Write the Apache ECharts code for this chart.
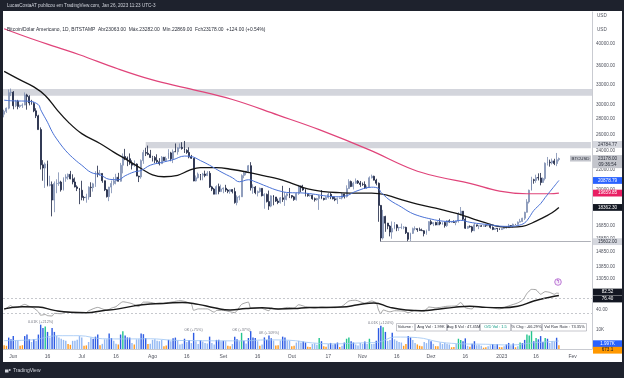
<!DOCTYPE html>
<html><head><meta charset="utf-8">
<script src="https://cdn.jsdelivr.net/npm/echarts@6/dist/echarts.min.js"></script>
<style>html,body{margin:0;padding:0;background:#fff;}#c{width:624px;height:378px;}</style>
</head><body><div id="c"></div>
<script>
// ---------- DATA ----------
const firstDay = '2022-05-28', lastDay = '2023-02-09';
// daily OHLC [open, high, low, close] from 2022-05-28 to 2023-01-26
const ohlc = [
[28620,29250,28200,29020],[29020,29550,28800,29450],[29450,32200,29300,31720],[31720,32350,31200,31790],
[31790,31950,29300,29800],[29800,30650,29600,30450],[30450,30650,29300,29700],[29700,29950,29480,29860],[29860,30150,29500,29900],[29900,31750,29880,31370],[31370,31550,29250,31130],[31130,31330,29850,30200],[30200,30650,29950,30110],[30110,30350,28900,29090],[29090,29450,28100,28400],[28400,28550,26600,26600],
[26600,26880,22000,22490],[22490,23000,20850,22150],[22150,22750,20150,22580],[22580,22950,20300,20400],[20400,21350,20300,20470],[20470,20780,17600,19020],[19020,20780,17950,20570],[20570,21000,19650,20580],[20580,21700,20350,20720],[20720,20850,19800,19970],[19970,21200,19900,21100],[21100,21500,20750,21230],[21230,21580,20950,21500],[21500,21850,21000,21040],[21040,21500,20500,20730],[20730,21180,20200,20250],[20250,20400,19850,20100],[20100,20150,18650,19930],
[19930,20850,19000,19260],[19260,19400,18970,19240],[19240,19600,18780,19300],[19300,20300,19050,20220],[20220,20700,19300,20180],[20180,20650,19800,20550],[20550,21820,20250,21620],[21620,22400,21200,21590],[21590,21950,21350,21590],[21590,21600,20650,20850],[20850,20870,19850,19970],[19970,20050,19250,19330],[19330,20250,18920,20230],[20230,20870,19650,20580],[20580,21200,20400,20830],[20830,21550,20500,21200],[21200,21650,20780,20800],[20800,22700,20760,22450],[22450,23750,21600,23400],[23400,24270,23000,23230],[23230,23400,22350,23160],[23160,23750,22500,22680],[22680,22980,22000,22460],[22460,22980,22280,22580],[22580,22650,21300,21320],[21320,21350,20720,21240],[21240,23080,21050,22950],[22950,24150,22600,23850],[23850,24400,23450,23770],[23770,24650,23550,23640],[23640,24150,23250,23300],
[23300,23480,22850,23280],[23280,23450,22680,22990],[22990,23650,22700,22820],[22820,23220,22430,22620],[22620,23450,22600,23320],[23320,23360,22930,22960],[22960,23400,22850,23180],[23180,24230,23160,23810],[23810,23930,22880,23150],[23150,24200,22680,23950],[23950,24900,23900,23940],[23940,24450,23610,24400],[24400,24900,24300,24440],[24440,25050,24180,24310],[24310,25200,23800,24100],[24100,24230,23700,23860],[23860,24450,23200,23340],[23340,23580,23130,23200],[23200,23200,20800,20830],[20830,21380,20780,21150],[21150,21680,21080,21520],[21520,21520,20900,21400],[21400,21650,20900,21530],[21530,21880,21200,21370],[21370,21820,21320,21600],[21600,21830,20150,20250],[20250,20350,19850,20040],[20040,20150,19550,19560],[19560,20400,19550,20280],[20280,20570,19550,19800],[19800,20470,19800,20050],
[20050,20200,19650,20130],[20130,20450,19770,19950],[19950,20050,19650,19830],[19830,20000,19600,19990],[19990,20030,19630,19800],[19800,20170,18700,18790],[18790,19450,18550,19290],[19290,19450,19000,19320],[19320,21500,19300,21370],[21370,21800,21100,21650],[21650,21850,21400,21830],[21830,22480,21600,22400],[22400,22780,19900,20170],[20170,20500,19600,20230],[20230,20330,19550,19700],[19700,19900,19350,19800],[19800,20180,19700,20110],[20110,20110,19350,19420],[19420,19650,18250,19540],[19540,19620,18800,18880],[18880,19900,18150,18480],[18480,19450,18380,19400],[19400,19480,18550,19300],[19300,19300,18850,18930],[18930,19150,18650,18800],[18800,19300,18700,19220],[19220,20350,18850,19080],[19080,19750,18500,19410],[19410,19650,19000,19590],[19590,20150,19200,19430],
[19430,19470,19170,19310],[19310,19400,18950,19060],[19060,19700,18970,19630],[19630,20450,19500,20340],[20340,20370,19750,20160],[20160,20450,19880,19960],[19960,20050,19350,19530],[19530,19600,19320,19420],[19420,19550,19330,19450],[19450,19520,19050,19140],[19140,19250,18880,19050],[19050,19220,18970,19160],[19160,19500,18150,19380],[19380,19950,19100,19180],[19180,19220,18980,19070],[19070,19360,19070,19260],[19260,19680,19150,19550],[19550,19700,19100,19330],[19330,19350,19080,19130],[19130,19350,18920,19040],[19040,19250,18670,19170],[19170,19250,19130,19200],[19200,19690,19080,19570],[19570,19600,19160,19330],[19330,20400,19250,20090],[20090,21000,20060,20770],[20770,20870,20230,20290],[20290,20750,20000,20600],[20600,21080,20560,20820],[20820,20920,20530,20630],[20630,20830,20250,20490],
[20490,20680,20350,20480],[20480,20790,20050,20150],[20150,20380,20050,20210],[20210,21290,20180,21150],[21150,21470,21080,21300],[21300,21360,20880,20910],[20910,21050,20400,20600],[20600,20680,17150,18540],[18540,18580,15602,15880],[15880,18150,15760,17590],[17590,17650,16350,17040],[17040,17060,16550,16800],[16800,16880,16000,16330],[16330,17180,15820,16620],[16620,17130,16550,16900],[16900,16950,16400,16660],[16660,16750,16420,16690],[16690,17000,16560,16700],[16700,16800,16550,16700],[16700,16750,16180,16280],[16280,16300,15620,15780],[15780,16280,15650,16230],[16230,16680,16180,16600],[16600,16780,16460,16600],[16600,16610,16350,16520],[16520,16680,16440,16460],[16460,16600,16420,16430],[16430,16480,16000,16210],[16210,16520,16120,16440],[16440,17200,16430,17160],
[17160,17320,16880,16980],[16980,17100,16800,17090],[17090,17150,16870,16890],[16890,17200,16880,17110],[17110,17430,16870,16970],[16970,17110,16910,17090],[17090,17140,16680,16840],[16840,17290,16740,17230],[17230,17350,17080,17130],[17130,17220,17090,17130],[17130,17270,17080,17090],[17090,17240,16870,17210],[17210,17950,17080,17780],[17780,18400,17660,18040],[18040,18050,17280,17360],[17360,17530,16580,16630],[16630,16800,16580,16780],[16780,16860,16680,16740],[16740,16820,16300,16440],[16440,17060,16400,16900],[16900,16910,16750,16820],[16820,16860,16560,16820],[16820,16880,16760,16780],[16780,16860,16770,16840],[16840,16860,16730,16830],[16830,16950,16790,16910],[16910,16960,16600,16700],[16700,16780,16480,16540],[16540,16650,16490,16630],[16630,16640,16340,16600],[16600,16630,16490,16530],
[16530,16620,16490,16610],[16610,16780,16550,16670],[16670,16760,16600,16670],[16670,16980,16660,16850],[16850,16880,16750,16830],[16830,17000,16680,16950],[16950,16980,16900,16940],[16940,17170,16910,17120],[17120,17390,17100,17180],[17180,17480,17150,17440],[17440,17990,17300,17940],[17940,19100,17920,18850],[18850,19990,18710,19930],[19930,21250,19900,20950],[20950,21050,20560,20880],[20880,21460,20650,21170],[21170,21600,20880,21130],[21130,21640,20400,20680],[20680,21180,20660,21070],[21070,22750,20880,22670],[22670,23350,22420,22780],[22780,23060,22300,22710],[22710,23170,22530,22920],[22920,23150,22460,22630],[22630,23800,22350,23054],[23063,23282,22869,23178]
];
// daily volume (thousand BTC), same days
const vol = [
2.0,1.7,6.0,5.1,
6.8,4.3,4.3,1.7,2.0,6.8,7.6,5.1,3.7,5.1,4.3,7.6,
12.8,11.0,11.8,9.0,6.0,11.0,9.0,6.8,6.0,5.4,4.8,4.3,2.6,2.2,4.3,4.4,4.9,6.8,
6.0,1.7,1.9,3.7,6.0,5.4,6.5,7.6,2.0,2.7,5.1,5.1,8.2,5.8,4.4,2.7,2.4,7.6,9.4,7.1,6.1,6.0,3.1,2.4,5.1,5.1,8.2,7.8,5.8,2.6,2.7,
4.8,5.1,4.4,4.1,4.8,1.5,1.9,4.8,4.1,5.6,6.0,4.3,2.4,2.7,5.4,3.7,4.8,3.1,8.5,4.1,2.6,4.6,3.9,3.2,2.9,6.5,3.1,2.4,4.8,4.9,4.1,
4.3,4.1,1.7,1.5,2.6,6.5,5.1,4.1,8.5,4.3,2.9,5.8,9.4,6.1,5.8,4.1,1.7,2.4,6.1,4.8,7.1,5.6,4.4,1.9,2.0,4.4,6.5,6.1,4.3,4.4,
1.4,1.7,3.4,4.3,3.4,3.9,3.4,1.2,1.0,2.6,2.9,2.2,5.8,4.1,1.4,1.2,2.6,3.2,2.4,2.7,3.4,1.0,1.7,3.4,5.4,6.0,4.1,3.4,2.4,1.9,3.1,
2.7,3.9,2.6,5.4,2.6,2.7,4.4,11.0,12.3,11.5,9.0,4.3,4.8,8.5,5.1,4.4,3.7,3.4,1.7,2.6,6.8,6.1,4.8,3.1,2.4,1.7,1.5,3.7,3.1,4.9,
4.1,2.7,1.5,1.5,3.4,2.6,3.2,2.7,2.4,0.9,1.0,2.6,5.4,4.8,4.1,5.6,1.7,1.2,2.7,4.1,2.0,2.2,1.7,0.7,0.9,1.4,2.0,2.6,2.0,2.6,1.0,
0.9,1.5,2.4,3.2,1.9,2.9,0.9,1.5,3.4,3.1,4.8,7.6,7.1,9.4,4.1,5.8,5.1,6.8,3.7,5.8,5.4,3.2,4.1,3.9,5.92,1.997
];
// moving averages [date, value]
const ma200 = [['2022-05-28',43000],['2022-06-09',41000],['2022-06-20',39400],['2022-06-30',38000],['2022-07-17',35500],['2022-08-01',33700],['2022-08-16',32400],['2022-09-05',30700],['2022-09-25',28500],['2022-10-13',26600],['2022-11-04',24150],['2022-11-23',22000],['2022-12-05',21200],['2022-12-18',20600],['2022-12-31',19850],['2023-01-12',19600],['2023-01-22',19600],['2023-01-26',19659.85]];
const ma50 = [['2022-05-28',35100],['2022-06-04',33700],['2022-06-10',32600],['2022-06-15',31300],['2022-06-20',29300],['2022-06-25',27600],['2022-07-01',26100],['2022-07-09',24900],['2022-07-15',23900],['2022-07-21',23000],['2022-07-27',22100],['2022-08-01',21450],['2022-08-06',21250],['2022-08-12',21400],['2022-08-17',21900],['2022-08-22',22200],['2022-08-29',22200],['2022-09-05',22000],['2022-09-12',21700],['2022-09-19',21350],['2022-09-25',21050],['2022-10-01',20600],['2022-10-08',20050],['2022-10-15',19800],['2022-10-22',19700],['2022-10-29',19650],['2022-11-05',19650],['2022-11-12',19450],['2022-11-18',19050],['2022-11-25',18650],['2022-12-03',18300],['2022-12-09',18000],['2022-12-14',17750],['2022-12-20',17350],['2022-12-25',17060],['2022-12-31',16760],['2023-01-05',16720],['2023-01-10',16780],['2023-01-16',17200],['2023-01-20',17580],['2023-01-23',17900],['2023-01-26',18362.30]];
const ema20 = [['2022-05-28',30600],['2022-06-01',30500],['2022-06-08',30450],['2022-06-12',29950],['2022-06-13',29250],['2022-06-14',28650],['2022-06-16',27550],['2022-06-18',26350],['2022-06-20',25450],['2022-06-24',24050],['2022-06-28',23050],['2022-07-01',22450],['2022-07-05',21700],['2022-07-09',21450],['2022-07-13',21000],['2022-07-17',20950],['2022-07-20',21350],['2022-07-24',21750],['2022-07-27',21900],['2022-07-31',22450],['2022-08-05',22750],['2022-08-10',23050],['2022-08-15',23450],['2022-08-18',23400],['2022-08-22',22950],['2022-08-26',22450],['2022-08-31',21750],['2022-09-05',21150],['2022-09-08',20750],['2022-09-12',20950],['2022-09-15',20750],['2022-09-20',20300],['2022-09-25',19900],['2022-09-30',19700],['2022-10-05',19680],['2022-10-10',19580],['2022-10-15',19420],['2022-10-20',19320],['2022-10-25',19420],['2022-10-29',19820],['2022-11-05',20220],['2022-11-08',20100],['2022-11-09',19740],['2022-11-10',19540],['2022-11-13',19000],['2022-11-18',18400],['2022-11-22',17920],['2022-11-26',17620],['2022-11-30',17420],['2022-12-05',17230],['2022-12-10',17160],['2022-12-14',17270],['2022-12-18',17110],['2022-12-22',17000],['2022-12-27',16900],['2022-12-31',16800],['2023-01-04',16780],['2023-01-08',16850],['2023-01-11',17060],['2023-01-13',17510],['2023-01-15',18100],['2023-01-18',18700],['2023-01-20',19250],['2023-01-23',20050],['2023-01-26',20878.79]];
// RSI (thin) and its average (thick)
const rsi = [['2022-05-28',38],['2022-05-31',50],['2022-06-01',44],['2022-06-03',45],['2022-06-06',53],['2022-06-08',48],['2022-06-10',43],['2022-06-12',33],['2022-06-13',24],['2022-06-15',26],['2022-06-16',23],['2022-06-18',22],['2022-06-19',29],['2022-06-22',28],['2022-06-24',33],['2022-06-26',32],['2022-06-28',30],['2022-06-30',30],['2022-07-03',31],['2022-07-04',36],['2022-07-08',45],['2022-07-10',41],['2022-07-12',37],['2022-07-14',43],['2022-07-16',47],['2022-07-19',60],['2022-07-21',58],['2022-07-23',55],['2022-07-26',47],['2022-07-28',59],['2022-07-30',59],['2022-08-04',54],['2022-08-08',58],['2022-08-10',60],['2022-08-13',63],['2022-08-15',61],['2022-08-18',54],['2022-08-19',37],['2022-08-21',41],['2022-08-25',41],['2022-08-28',32],['2022-08-29',37],['2022-09-01',37],['2022-09-06',31],['2022-09-09',53],['2022-09-12',59],['2022-09-13',43],['2022-09-17',44],['2022-09-21',36],['2022-09-22',43],['2022-09-25',40],['2022-09-29',45],['2022-10-02',43],['2022-10-04',52],['2022-10-07',47],['2022-10-11',43],['2022-10-14',46],['2022-10-20',44],['2022-10-23',48],['2022-10-26',62],['2022-10-29',64],['2022-11-02',56],['2022-11-05',62],['2022-11-07',57],['2022-11-08',38],['2022-11-09',28],['2022-11-10',38],['2022-11-13',33],['2022-11-15',36],['2022-11-19',35],['2022-11-21',31],['2022-11-24',37],['2022-11-28',35],['2022-11-30',46],['2022-12-03',44],['2022-12-05',45],['2022-12-08',48],['2022-12-12',49],['2022-12-14',58],['2022-12-16',44],['2022-12-19',41],['2022-12-20',47],['2022-12-27',44],['2022-12-31',41],['2023-01-04',49],['2023-01-08',57],['2023-01-10',64],['2023-01-11',72],['2023-01-12',82],['2023-01-14',93],['2023-01-16',92],['2023-01-18',80],['2023-01-20',87],['2023-01-22',85],['2023-01-24',80],['2023-01-25',83],['2023-01-26',82.52]];
const rsiMa = [['2022-05-28',41],['2022-06-05',47],['2022-06-12',46],['2022-06-19',37],['2022-06-26',32],['2022-07-03',31],['2022-07-10',36],['2022-07-17',41],['2022-07-24',49],['2022-07-31',54],['2022-08-07',56],['2022-08-14',58],['2022-08-21',53],['2022-08-28',44],['2022-09-04',38],['2022-09-11',42],['2022-09-18',44],['2022-09-25',41],['2022-10-02',42],['2022-10-09',45],['2022-10-16',45],['2022-10-23',46],['2022-10-30',52],['2022-11-06',57],['2022-11-13',45],['2022-11-20',38],['2022-11-27',36],['2022-12-04',40],['2022-12-11',45],['2022-12-18',48],['2022-12-25',45],['2023-01-01',44],['2023-01-08',48],['2023-01-15',62],['2023-01-22',72],['2023-01-26',76.40]];
// average volume line (thousand BTC)
const avgVol = [['2022-05-28',4.4],['2022-06-10',4.9],['2022-06-20',7.0],['2022-06-30',7.0],['2022-07-10',5.4],['2022-07-20',5.3],['2022-07-31',5.4],['2022-08-10',4.6],['2022-08-20',4.4],['2022-08-31',4.3],['2022-09-10',4.3],['2022-09-20',4.8],['2022-09-30',4.6],['2022-10-10',3.2],['2022-10-20',2.7],['2022-10-31',3.2],['2022-11-08',3.6],['2022-11-15',6.3],['2022-11-25',6.0],['2022-12-05',3.6],['2022-12-15',2.7],['2022-12-25',2.5],['2023-01-05',2.1],['2023-01-15',3.3],['2023-01-26',4.2]];
// horizontal zones / levels
const bandTop = [31260, 32270];
const bandMid = ['2022-07-29', 24350, 25070];
const supportLevel = ['2022-11-09', 15602];
// axis tick labels
const xTickDates = ['2022-06-01','2022-06-16','2022-07-01','2022-07-16','2022-08-01','2022-08-16','2022-09-01','2022-09-16','2022-10-01','2022-10-17','2022-11-01','2022-11-16','2022-12-01','2022-12-16','2023-01-01','2023-01-16','2023-02-01'];
const xTickText  = ['Jun','16','Jul','16','Ago','16','Set','16','Out','17','Nov','16','Dez','16','2023','16','Fev'];
const priceTicks = [40000,36000,33000,30000,28000,26000,24000,22000,20000,16850,15850,14850,13850,13050];
const volAnnot = [['2022-06-13',12.8,'0.01K (+212%)'],['2022-08-19',8.5,'0K (+75%)'],['2022-09-09',8.5,'0K (+37%)'],['2022-09-21',7.1,'0K (+109%)'],['2022-11-09',12.3,'0.01K (+124%)'],['2023-01-14',9.4,'0K (+148%)']];

// ---------- BUILD ----------
const dates = [];
for (let t = Date.parse(firstDay+'T00:00:00Z'); t <= Date.parse(lastDay+'T00:00:00Z'); t += 86400000) dates.push(new Date(t).toISOString().slice(0,10));
const xLab = {}; xTickDates.forEach((d,i)=>xLab[d]=xTickText[i]);
const candle = ohlc.map(r=>[r[0],r[3],r[2],r[1]]);
const avgIdx = avgVol.map(p=>dates.indexOf(p[0]));
function avgAt(i){let b=0,bd=1e9;avgIdx.forEach((ix,k)=>{const d=Math.abs(ix-i);if(d<bd){bd=d;b=k;}});return avgVol[b][1];}
const FONT = '"Liberation Sans", Arial, sans-serif';
const PMIN = 12572, PMAX = 46568;
const G = {left:3, width:589};
const hidX = i => ({type:'category', gridIndex:i, data:dates, boundaryGap:true, show:false});

const option = {
  animation:false, backgroundColor:'#ffffff',
  textStyle:{fontFamily:FONT},
  grid:[ {...G, top:12, height:275}, {...G, top:286.75, height:37.5}, {...G, top:311, height:38} ],
  xAxis:[ hidX(0), hidX(1), {type:'category', gridIndex:2, data:dates, boundaryGap:true,
      axisLine:{show:true, lineStyle:{color:'#c9cbd1', width:1}}, axisTick:{show:false},
      axisLabel:{interval:(i,v)=>xLab[v]!==undefined, formatter:v=>xLab[v]||'', fontSize:5, color:'#50535e', margin:5, fontFamily:FONT},
      splitLine:{show:false}} ],
  yAxis:[
    {type:'log', gridIndex:0, min:PMIN, max:PMAX, position:'right', axisLine:{show:true, lineStyle:{color:'#c9cbd1'}}, axisTick:{show:false}, axisLabel:{show:false}, splitLine:{show:false}},
    {type:'value', gridIndex:1, min:0, max:100, position:'right', axisLine:{show:true, lineStyle:{color:'#c9cbd1'}}, axisTick:{show:false}, axisLabel:{show:false}, splitLine:{show:false}},
    {type:'value', gridIndex:2, min:0, max:20, position:'right', axisLine:{show:true, lineStyle:{color:'#c9cbd1'}}, axisTick:{show:false}, axisLabel:{show:false}, splitLine:{show:false}}
  ],
  series:[
    {type:'candlestick', xAxisIndex:0, yAxisIndex:0, data:candle, barWidth:'62%',
      itemStyle:{color:'#c3cde2', color0:'#1c2542', borderColor:'#7b8bb0', borderColor0:'#1c2542', borderWidth:0.8},
      markArea:{silent:true, itemStyle:{color:'rgba(196,199,208,0.75)'}, data:[
        [{yAxis:bandTop[0]},{yAxis:bandTop[1]}],
        [{xAxis:bandMid[0], yAxis:bandMid[1]},{xAxis:lastDay, yAxis:bandMid[2]}] ]},
      markLine:{silent:true, symbol:'none', label:{show:false}, lineStyle:{color:'#9a9da6', width:0.8, type:'solid'},
        data:[[{coord:[supportLevel[0], supportLevel[1]]},{coord:[lastDay, supportLevel[1]]}]]}
    },
    {type:'line', xAxisIndex:0, yAxisIndex:0, data:ma200, smooth:0.4, symbol:'none', lineStyle:{color:'#e0447a', width:1.2}, z:3},
    {type:'line', xAxisIndex:0, yAxisIndex:0, data:ma50, smooth:0.4, symbol:'none', lineStyle:{color:'#151515', width:1.3}, z:3},
    {type:'line', xAxisIndex:0, yAxisIndex:0, data:ema20, smooth:0.4, symbol:'none', lineStyle:{color:'#4a72d6', width:1}, z:3},
    {type:'line', xAxisIndex:1, yAxisIndex:1, data:rsi, smooth:0.2, symbol:'none', lineStyle:{color:'#7e7e7e', width:0.7},
      markLine:{silent:true, symbol:'none', label:{show:false}, lineStyle:{color:'#a0a3ab', width:0.6, type:[2,2]}, data:[{yAxis:70},{yAxis:30}]}},
    {type:'line', xAxisIndex:1, yAxisIndex:1, data:rsiMa, smooth:0.5, symbol:'none', lineStyle:{color:'#1a1a1a', width:1.5}},
    {type:'bar', xAxisIndex:2, yAxisIndex:2, data:vol, barWidth:'62%',
      itemStyle:{color:p=>{const i=p.dataIndex,v=vol[i],a=avgAt(i),up=ohlc[i][3]>=ohlc[i][0],r=v/a;
        if(r>=1.6&&up) return '#22c58e'; if(r>=1) return '#2d5be3'; if(r>=0.5) return '#93b8f3'; return '#ff9a1f';}},
      markPoint:{silent:true, symbol:'circle', symbolSize:0.1,
        label:{show:true, position:'top', distance:1, fontSize:3.8, color:'#787b86', fontFamily:FONT, formatter:p=>p.name},
        data:volAnnot.map(a=>({name:a[2], coord:[a[0], a[1]]}))}},
    {type:'line', xAxisIndex:2, yAxisIndex:2, data:avgVol, smooth:0.4, symbol:'none', lineStyle:{color:'#9cc4f4', width:0.8}, z:4}
  ]
};
const chart = echarts.init(document.getElementById('c'));
chart.setOption(option);

// ---------- TEXT / TAGS ----------
const g = [];
const dark = '#1e222d';
g.push({type:'rect', shape:{x:0,y:0,width:624,height:11}, style:{fill:dark}, z:100});
g.push({type:'rect', shape:{x:0,y:362,width:624,height:16}, style:{fill:dark}, z:100});
g.push({type:'rect', shape:{x:0,y:0,width:3,height:378}, style:{fill:dark}, z:100});
g.push({type:'rect', shape:{x:622,y:0,width:2,height:378}, style:{fill:dark}, z:100});
g.push({type:'text', z:101, style:{x:7, y:5.6, text:'LucasCostaAT publicou em TradingView.com, Jan 26, 2023 11:23 UTC-3', fill:'#d1d4dc', font:'4.6px '+FONT, verticalAlign:'middle'}});
g.push({type:'text', z:101, style:{x:13, y:371, text:'TradingView', fill:'#d1d4dc', font:'5px '+FONT, verticalAlign:'middle'}});
g.push({type:'rect', z:101, shape:{x:5, y:369.5, width:3.5, height:3}, style:{fill:'#d1d4dc'}});
g.push({type:'circle', z:101, shape:{cx:9.8, cy:370, r:0.9}, style:{fill:'#d1d4dc'}});
g.push({type:'text', z:60, style:{x:7, y:30, text:'Bitcoin/Dólar Americano, 1D, BITSTAMP  Abr23063.00  Máx.23282.00  Mín.22869.00  Fch23178.00  +124.00 (+0.54%)', fill:'#2a2e39', font:'4.9px '+FONT, verticalAlign:'middle'}});
g.push({type:'text', z:60, style:{x:597, y:16, text:'USD', fill:'#50535e', font:'4.6px '+FONT, verticalAlign:'middle'}});
g.push({type:'text', z:60, style:{x:597, y:30, text:'USD', fill:'#50535e', font:'4.6px '+FONT, verticalAlign:'middle'}});
const Y = (ax,v)=>chart.convertToPixel({yAxisIndex:ax}, v);
function tick(ax,v,txt){ g.push({type:'text', z:60, style:{x:596, y:Y(ax,v), text:txt, fill:'#50535e', font:'4.6px '+FONT, verticalAlign:'middle'}}); }
function tag(ax,v,txt,bg,fg,dy){ const y=Y(ax,v)+(dy||0);
  g.push({type:'rect', z:70, shape:{x:593, y:y-3.4, width:29, height:6.8}, style:{fill:bg}});
  g.push({type:'text', z:71, style:{x:607.5, y:y, text:txt, fill:fg, font:'4.6px '+FONT, align:'center', verticalAlign:'middle'}}); }
priceTicks.forEach(v=>tick(0,v,v.toFixed(2)));
tick(1,40,'40.00');
tick(2,10,'10K');
tag(0,24784.77,'24784.77','#d5d7de','#2a2e39');
{ const y=Y(0,23178);
  g.push({type:'rect', z:70, shape:{x:593, y:y-3.4, width:29, height:13}, style:{fill:'#c3c5cc'}});
  g.push({type:'text', z:71, style:{x:607.5, y:y, text:'23178.00', fill:'#2a2e39', font:'4.6px '+FONT, align:'center', verticalAlign:'middle'}});
  g.push({type:'text', z:71, style:{x:607.5, y:y+5.8, text:'09:36:54', fill:'#2a2e39', font:'4.6px '+FONT, align:'center', verticalAlign:'middle'}});
  g.push({type:'rect', z:70, shape:{x:570, y:y-3, width:21, height:6}, style:{fill:'#c3c5cc'}});
  g.push({type:'text', z:71, style:{x:580.5, y:y, text:'BTCUSD', fill:'#2a2e39', font:'4.4px '+FONT, align:'center', verticalAlign:'middle'}}); }
tag(0,20878.79,'20878.79','#2962ff','#ffffff');
tag(0,19659.85,'19659.85','#e91e63','#ffffff');
tag(0,18362.30,'18362.30','#131722','#ffffff');
tag(0,15602,'15602.00','#d5d7de','#2a2e39');
tag(1,82.52,'82.52','#131722','#ffffff',-1.3);
tag(1,76.40,'76.40','#131722','#ffffff',3.4);
tag(2,1.997,'1.997K','#2962ff','#ffffff',-1.5);
tag(2,0.6731,'673.1','#ff9800','#131722',2.5);
// info table in volume pane
const cells = [['Volume :',396,415,'#2a2e39'],['Avg Vol : 1.99K',415,447,'#2a2e39'],['Avg $ Vol : 47.45M',447,480,'#2a2e39'],['O/D Vol : 1.5',480,511,'#089981'],['% Chg : -66.29%',511,542,'#2a2e39'],['Vol Run Rate : 73.35%',542,587,'#2a2e39']];
cells.forEach(c=>{ g.push({type:'rect', z:80, shape:{x:c[1]+0.5, y:323.5, width:c[2]-c[1]-1, height:7.5}, style:{fill:'#ffffff', stroke:'#8c8f98', lineWidth:0.5}});
  g.push({type:'text', z:81, style:{x:(c[1]+c[2])/2, y:327.3, text:c[0], fill:c[3], font:'4px '+FONT, align:'center', verticalAlign:'middle'}}); });
// event marker
g.push({type:'circle', z:80, shape:{cx:558, cy:282, r:3.3}, style:{fill:'#f6ecfa', stroke:'#a347c6', lineWidth:0.7}});
g.push({type:'text', z:81, style:{x:558, y:282.2, text:'ϟ', fill:'#a347c6', font:'4.5px '+FONT, align:'center', verticalAlign:'middle'}});
if (ohlc.length!==244 || vol.length!==244) g.push({type:'text', z:200, style:{x:200,y:200,text:'LEN '+ohlc.length+' '+vol.length, fill:'red', font:'20px sans-serif'}});
chart.setOption({graphic:{elements:g}});
</script></body></html>
